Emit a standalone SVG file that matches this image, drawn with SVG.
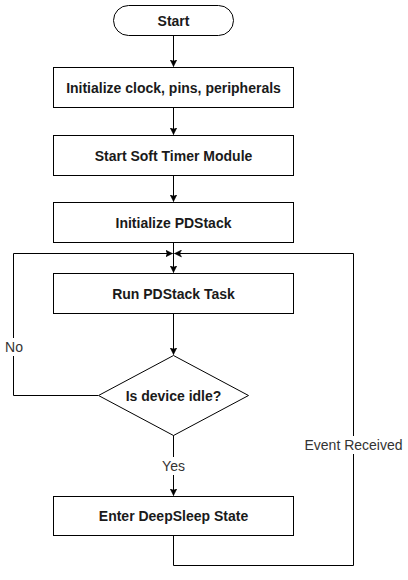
<svg xmlns="http://www.w3.org/2000/svg" width="408" height="580" viewBox="0 0 408 580">
<style>
.n{fill:#fff;stroke:#000;stroke-width:1}
.t{font-family:"Liberation Sans",Arial,sans-serif;font-size:14px;font-weight:bold;fill:#1a1a1a;text-anchor:middle;dominant-baseline:central}
.l{font-family:"Liberation Sans",Arial,sans-serif;font-size:14px;fill:#333;text-anchor:middle;dominant-baseline:central}
.c{fill:none;stroke:#000;stroke-width:1}
</style>
<defs>
<marker id="a" markerWidth="8" markerHeight="8" refX="7" refY="4" orient="auto" markerUnits="userSpaceOnUse">
<path d="M0,0.5 L7,4 L0,7.5 L1.8,4 Z" fill="#000" stroke="#000" stroke-width="0.5"/>
</marker>
</defs>
<g id="connectors">
<path class="c" d="M173.5,35 V66.5" marker-end="url(#a)"/>
<path class="c" d="M173.5,107 V134.5" marker-end="url(#a)"/>
<path class="c" d="M173.5,175 V201.5" marker-end="url(#a)"/>
<path class="c" d="M173.5,242 V272.5" marker-end="url(#a)"/>
<path class="c" d="M173.5,313 V354.5" marker-end="url(#a)"/>
<path class="c" d="M98,395.5 H13.5 V253.5 H172.5" marker-end="url(#a)"/>
<path class="c" d="M173.5,435 V495.5" marker-end="url(#a)"/>
<path class="c" d="M173.5,535 V565.5 H353.5 V253.5 H174.5" marker-end="url(#a)"/>
<rect x="2" y="338" width="24" height="18" fill="#fff"/>
<text class="l" x="14" y="347">No</text>
<rect x="157" y="457" width="32" height="18" fill="#fff"/>
<text class="l" x="173.5" y="466">Yes</text>
<rect x="303" y="436" width="102" height="18" fill="#fff"/>
<text class="l" x="353.5" y="445">Event Received</text>
</g>
<g id="start">
<rect class="n" x="113.5" y="5.5" width="120" height="30" rx="15" ry="15"/>
<text class="t" x="173.5" y="20.5">Start</text>
</g>
<g id="init-clock">
<rect class="n" x="53.5" y="67.5" width="240" height="40"/>
<text class="t" x="173.5" y="87.5">Initialize clock, pins, peripherals</text>
</g>
<g id="soft-timer">
<rect class="n" x="53.5" y="135.5" width="240" height="40"/>
<text class="t" x="173.5" y="155.5">Start Soft Timer Module</text>
</g>
<g id="init-pdstack">
<rect class="n" x="53.5" y="202.5" width="240" height="40"/>
<text class="t" x="173.5" y="222.5">Initialize PDStack</text>
</g>
<g id="run-task">
<rect class="n" x="53.5" y="273.5" width="240" height="40"/>
<text class="t" x="173.5" y="293.5">Run PDStack Task</text>
</g>
<g id="idle">
<polygon class="n" points="173.5,355.5 248.5,395.5 173.5,435.5 98.5,395.5"/>
<text class="t" x="173.5" y="395.5">Is device idle?</text>
</g>
<g id="deepsleep">
<rect class="n" x="53.5" y="496.5" width="240" height="39"/>
<text class="t" x="173.5" y="516">Enter DeepSleep State</text>
</g>
</svg>
